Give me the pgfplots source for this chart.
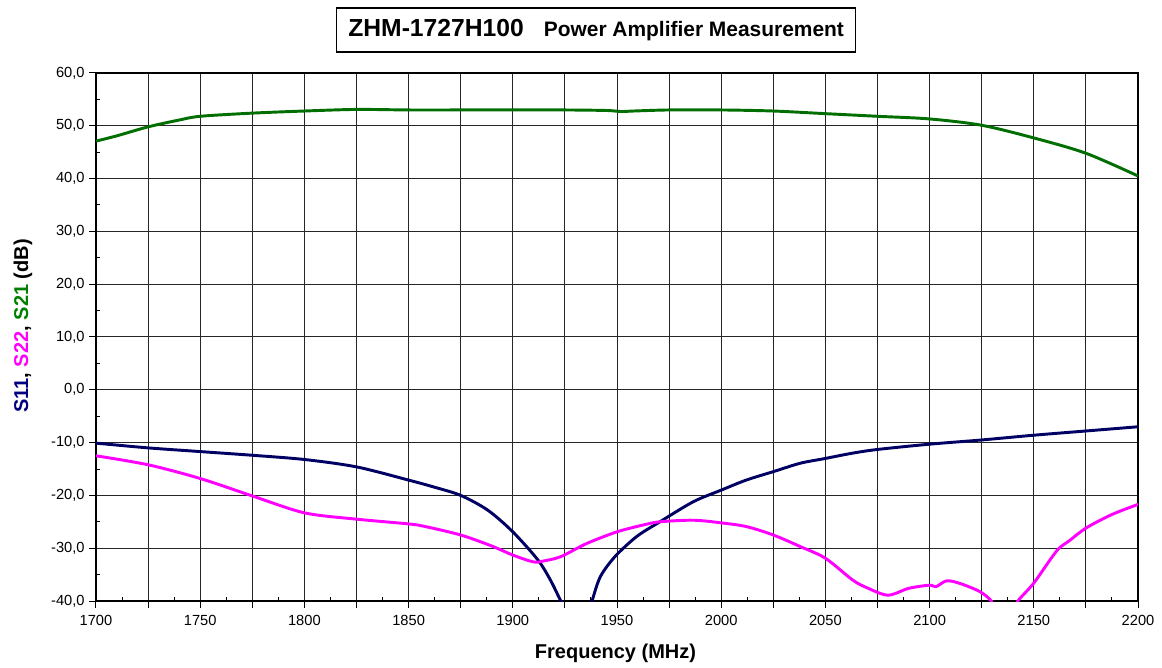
\documentclass[border=0pt]{standalone}
\usepackage{pgfplots}
\pgfplotsset{compat=1.18}
\usepackage{fontspec}
\setmainfont{Liberation Sans}
\definecolor{sgreen}{RGB}{0,110,0}
\definecolor{snavy}{RGB}{0,0,100}
\definecolor{smag}{RGB}{255,0,255}
\definecolor{lgreen}{RGB}{0,128,0}
\definecolor{lnavy}{RGB}{0,0,128}
\begin{document}
\begin{tikzpicture}
\useasboundingbox (-72pt,-49.5pt) rectangle (799.5pt,450.75pt);
\begin{axis}[
  at={(0,0)}, anchor=south west,
  scale only axis, width=781.5pt, height=396pt,
  xmin=1700, xmax=2200, ymin=-40, ymax=60,
  xtick={1700,1725,...,2200},
  xticklabels={1700,,1750,,1800,,1850,,1900,,1950,,2000,,2050,,2100,,2150,,2200},
  ytick={-40,-30,...,60},
  yticklabels={{-40,0},{-30,0},{-20,0},{-10,0},{0,0},{10,0},{20,0},{30,0},{40,0},{50,0},{60,0}},
  minor x tick num=1, minor y tick num=1,
  xtick pos=bottom, ytick pos=left,
  tick align=outside,
  major tick length=5pt, minor tick length=3pt,
  minor x tick style={yshift=3pt},
  minor y tick style={xshift=3pt},
  tick style={black, line width=0.75pt},
  grid=major,
  major grid style={black!85, line width=0.75pt},
  axis line style={black, line width=1pt},
  tick label style={font=\fontsize{11}{13}\selectfont},
  xticklabel style={yshift=-2pt},
  xlabel={\bfseries Frequency (MHz)},
  xlabel style={at={(axis description cs:0.4986,-0.0985)}, anchor=center, font=\fontsize{15}{18}\selectfont},
  ylabel={\bfseries\textcolor{lnavy}{S11}, \textcolor{smag}{S22}, \textcolor{lgreen}{S21} (dB)},
  ylabel style={at={(axis description cs:-0.070,0.521)}, anchor=center, font=\fontsize{15}{18}\selectfont},
  clip mode=individual,
  every axis plot/.append style={line width=2.2pt, smooth, tension=0.5},
]
% S21
\addplot[sgreen] coordinates {
(1700,47.1) (1710,48.1) (1725,49.8) (1740,51.1) (1750,51.8) (1775,52.4)
(1800,52.8) (1825,53.1) (1850,53.0) (1875,53.0) (1900,53.0) (1925,53.0)
(1945,52.9) (1952,52.7) (1958,52.8) (1975,53.0) (2000,53.0) (2025,52.8)
(2050,52.3) (2075,51.8) (2100,51.3) (2125,50.1) (2150,47.7) (2175,44.8) (2200,40.5)
};
% S11 left branch
\addplot[snavy] coordinates {
(1700,-10.1) (1725,-11.0) (1750,-11.7) (1775,-12.4) (1800,-13.2) (1825,-14.6)
(1850,-17.1) (1862,-18.4) (1875,-20.0) (1888,-22.8) (1900,-26.9) (1912,-32.2)
(1918,-36.0) (1923,-40.0) (1926,-42.5)
};
% S11 right branch
\addplot[snavy] coordinates {
(1935.5,-43.0) (1938,-40.0) (1942,-35.4) (1949,-31.6) (1959.4,-27.8) (1970.6,-25.0)
(1986.6,-21.2) (2000,-19.0) (2012,-17.1) (2025,-15.5) (2038,-13.9) (2050,-13.0)
(2063,-12.0) (2075,-11.3) (2100,-10.3) (2125,-9.5) (2150,-8.6) (2175,-7.8) (2200,-7.0)
};
% S22 left part
\addplot[smag] coordinates {
(1700,-12.5) (1725,-14.2) (1750,-16.8) (1775,-20.1) (1800,-23.3) (1825,-24.5)
(1850,-25.4) (1858,-25.9) (1875,-27.5) (1890,-29.6) (1900,-31.3) (1910,-32.6)
(1915,-32.4) (1923,-31.6) (1935.5,-29.1) (1950,-26.9) (1962.6,-25.6) (1970.6,-25.0)
(1986.6,-24.7) (2000,-25.2) (2012,-25.9) (2025,-27.5) (2038,-29.7) (2050,-31.9)
(2063,-36.0) (2070,-37.5) (2080,-38.9) (2090,-37.6) (2100,-37.0) (2103,-37.3)
(2108,-36.2) (2114,-36.6) (2124,-38.2) (2129.6,-40.0) (2131,-42.0)
};
% S22 right part
\addplot[smag] coordinates {
(2141,-42.0) (2142.4,-40.0) (2150,-36.6) (2161,-30.5) (2167,-28.6) (2175,-26.2)
(2187,-23.7) (2200,-21.7)
};
\node[draw=black, line width=0.8pt, minimum width=389pt, minimum height=33pt, inner sep=0pt]
  at (axis description cs:0.480,1.0814)
  {{\bfseries\fontsize{18.5}{22}\selectfont ZHM-1727H100}\hspace{15pt}{\bfseries\fontsize{15.7}{18}\selectfont Power Amplifier Measurement}};
\end{axis}
\end{tikzpicture}
\end{document}
